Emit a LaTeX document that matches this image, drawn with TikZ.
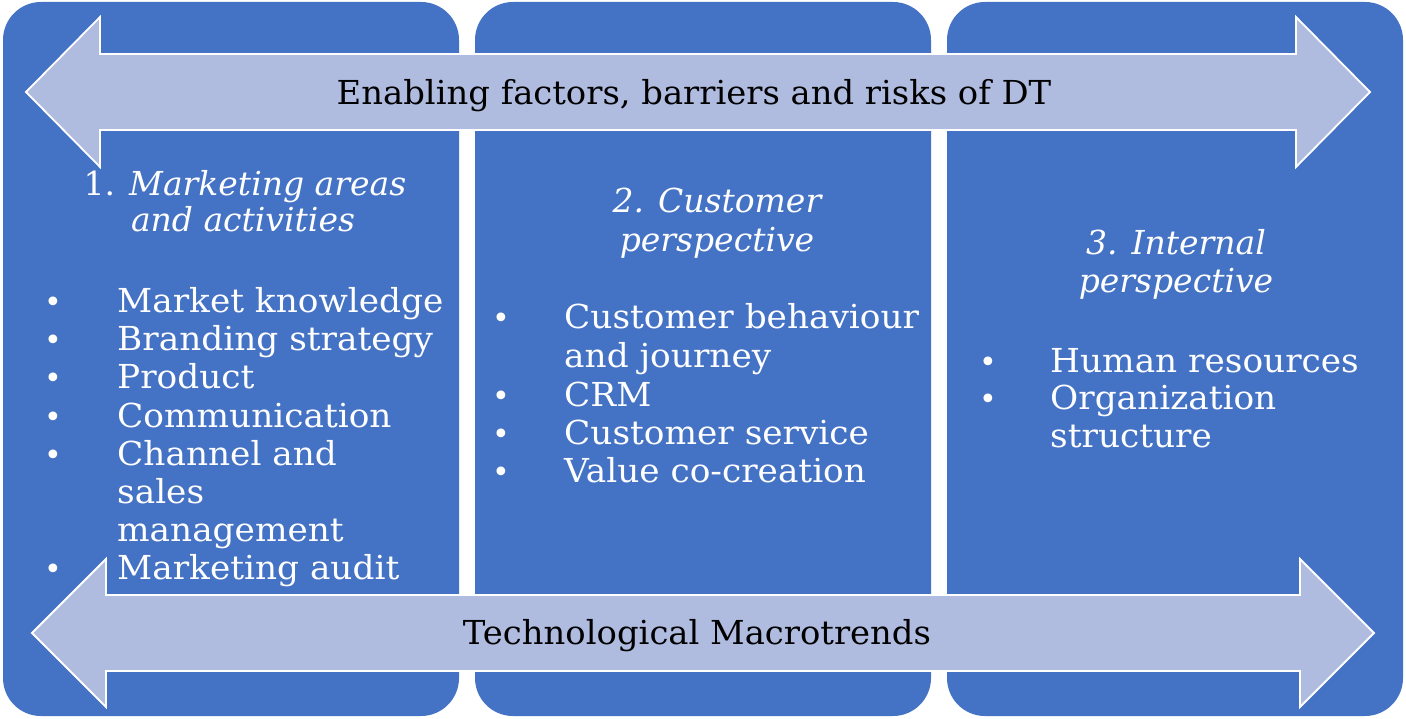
\documentclass[tikz,border=0pt]{standalone}
\usepackage{fontspec}
\setmainfont{DejaVu Serif}
\newfontfamily\paneltext[FakeStretch=1.04]{DejaVu Serif}
\newfontfamily\arrowtext[FakeStretch=1.025]{DejaVu Serif}
\definecolor{panelblue}{HTML}{4472C4}
\definecolor{arrowfill}{HTML}{AFBCE0}
\begin{document}
\begin{tikzpicture}[x=1pt,y=-1pt,
  panel/.style={fill=panelblue, draw=none, rounded corners=38pt},
  dblarrow/.style={fill=arrowfill, draw=white, line width=1.8pt, line join=miter},
  ptext/.style={text=white, font=\paneltext\fontsize{33}{38}\selectfont, inner sep=0pt, anchor=base west},
  pbullet/.style={text=white, font=\fontsize{30}{38}\selectfont, inner sep=0pt, anchor=base},
  ptitle/.style={text=white, font=\fontsize{33}{38}\selectfont\itshape, inner sep=0pt, anchor=base},
  atext/.style={text=black, font=\arrowtext\fontsize{33}{40}\selectfont, inner sep=0pt, anchor=base},
]
\useasboundingbox (0,0) rectangle (1406,719);
\fill[white] (0,0) rectangle (1406,719);
% panels
\draw[panel] (3,2) rectangle (459,716);
\draw[panel] (475,2) rectangle (931,716);
\draw[panel] (947,2) rectangle (1403,716);
% arrows
\draw[dblarrow] (26,92) -- (100,17) -- (100,54) -- (1296,54) -- (1296,17) -- (1370,92)
  -- (1296,167) -- (1296,130) -- (100,130) -- (100,167) -- cycle;
\draw[dblarrow] (32,633) -- (106,559) -- (106,595) -- (1300,595) -- (1300,559) -- (1374,633)
  -- (1300,707) -- (1300,671) -- (106,671) -- (106,707) -- cycle;
\node[atext] (enab) at (694,105) {Enabling factors, barriers and risks of DT};
\node[atext] (tech) at (697,644) {Technological Macrotrends};
% panel 1
\node[ptitle] (t1a) at (245,196) {{\upshape 1.} Marketing areas};
\node[ptitle] (t1b) at (243,232) {and activities};
\foreach \y/\n/\t in {312.5/a/Market knowledge, 350.7/b/Branding strategy, 388.9/c/Product,
  427.1/d/Communication, 465.3/e/Channel and, 579.9/f/Marketing audit}{
  \node[pbullet] (b1\n) at (53,\y) {•};
  \node[ptext] (i1\n) at (117,\y) {\t};
}
\node[ptext] (i1e2) at (117,503.5) {sales};
\node[ptext] (i1e3) at (117,541.7) {management};
% panel 2
\node[ptitle] (t2a) at (717,213) {2. Customer};
\node[ptitle] (t2b) at (717,252) {perspective};
\foreach \y/\n/\t in {329/a/Customer behaviour, 406/b/CRM, 444/c/Customer service, 482/d/Value co-creation}{
  \node[pbullet] (b2\n) at (501,\y) {•};
  \node[ptext] (i2\n) at (564,\y) {\t};
}
\node[ptext] (i2a2) at (564,367) {and journey};
% panel 3
\node[ptitle] (t3a) at (1176,255) {3. Internal};
\node[ptitle] (t3b) at (1176,293) {perspective};
\foreach \y/\n/\t in {372/a/Human resources, 409.5/b/Organization}{
  \node[pbullet] (b3\n) at (988,\y) {•};
  \node[ptext] (i3\n) at (1050,\y) {\t};
}
\node[ptext] (i3b2) at (1050,447) {structure};
\end{tikzpicture}
\end{document}
